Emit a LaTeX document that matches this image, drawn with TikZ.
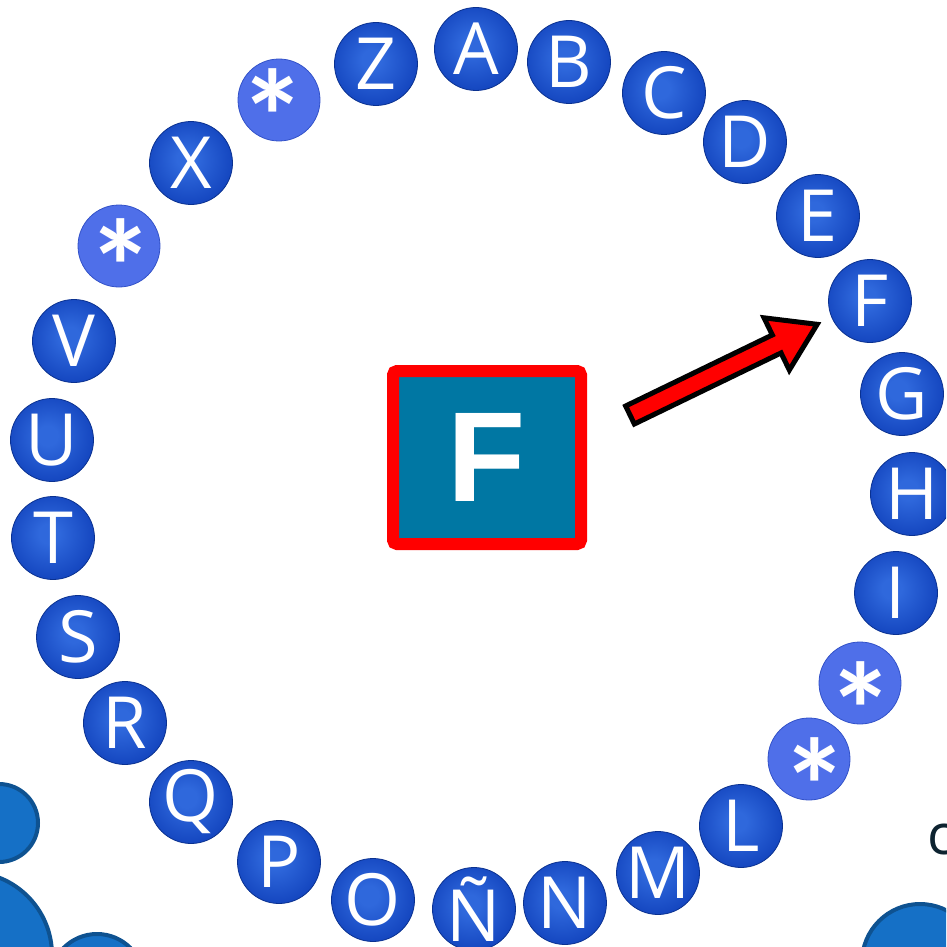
\documentclass[tikz,border=0pt]{standalone}
\usepackage{fontspec}
\setmainfont{Open Sans}
\newfontfamily\arialf{Liberation Sans}
\newfontfamily\calib{Carlito}
\definecolor{ballhi}{HTML}{2F68DC}
\definecolor{ballmid}{HTML}{1547C0}
\definecolor{balldark}{HTML}{0B3AA8}
\definecolor{balledge}{HTML}{0A3190}
\definecolor{starblue}{HTML}{4F6FE9}
\definecolor{starrim}{HTML}{3352C8}
\definecolor{dotfill}{HTML}{1570C6}
\definecolor{dotrim}{HTML}{0E5291}
\definecolor{boxteal}{HTML}{0077A3}
\definecolor{inkdark}{HTML}{0D2330}
\pgfdeclareradialshading{ballshade}{\pgfpoint{-3bp}{3bp}}{color(0bp)=(ballhi); color(6bp)=(ballhi); color(26bp)=(ballmid); color(44bp)=(balldark); color(50bp)=(balledge)}
\newcommand{\starglyph}{\raisebox{-71pt}[0pt][0pt]{\makebox[0pt]{*}}}
\tikzset{
  ball/.style={circle, minimum size=83pt, inner sep=0pt, shading=ballshade, draw=balledge, line width=0.8pt},
  balltxt/.style={inner sep=0pt, text=white, font=\fontsize{72}{72}\selectfont},
  starball/.style={circle, minimum size=82pt, inner sep=0pt, fill=starblue, draw=starrim, line width=0.8pt},
  startxt/.style={inner sep=0pt, text=white, font=\calib\bfseries\fontsize{134}{134}\selectfont},
  bigdot/.style={circle, inner sep=0pt, fill=dotfill, draw=dotrim, line width=4pt},
  centerbox/.style={rectangle, minimum width=188pt, minimum height=173pt, inner sep=0pt, fill=boxteal, draw=red, line width=12pt, rounded corners=4pt, text=white, font=\arialf\bfseries\fontsize{128}{128}\selectfont},
  bigarrow/.style={fill=red, draw=black, line width=5pt, line join=miter}
}
\begin{document}
\begin{tikzpicture}[x=1pt, y=-1pt]
\useasboundingbox (0,0) rectangle (946,947);
\clip (0,0) rectangle (946,947);
% decorative dots
\node[bigdot, minimum size=78pt] (d1) at (-1,823) {};
\node[bigdot, minimum size=166pt] (d2) at (-31,955) {};
\node[bigdot, minimum size=94pt] (d3) at (97,981) {};
\node[bigdot, minimum size=116pt] (d4) at (920,962) {};
\node[anchor=west, inner sep=0pt, text=inkdark, font=\fontsize{56}{56}\selectfont] (ctext) at (927,840) {c};
% letter ring
\foreach \nm/\x/\y/\t in {A/476/49/A, B/569/62/B, C/664/93/C, D/745/142/D, E/818/216/E, F/870/301/F, G/902/394/G, H/912/494/H, I/896/593/I, L/741/826/L, M/658/873/M, N/565/903/N, Nt/474/909/Ñ, O/373/900/O, P/279/862/P, Q/191/802/Q, R/125/723/R, S/78/637/S, T/53/538/T, U/52/440/U, V/74/341/V, X/191/163/X, Z/376/64/Z}{
  \node[ball] (c\nm) at (\x,\y) {};
  \node[balltxt] (t\nm) at (c\nm) {\t};
}
\foreach \nm/\x/\y/\ax/\ay in {s1/279/100/273/93, s2/119/246/121/243, s3/860/683/861/686, s4/809/759/815/762}{
  \node[starball] (\nm) at (\x,\y) {};
  \node[startxt] (t\nm) at (\ax,\ay) {\starglyph};
}
% centre box
\node[centerbox] (box) at (487,457.5) {F};
% arrow
\coordinate (arrTail) at (630,415);
\begin{scope}[shift={(arrTail)}, rotate=25.85]
\draw[bigarrow] (0,-10) -- (163,-10) -- (163,-29) -- (208,0) -- (163,29) -- (163,10) -- (0,10) -- cycle;
\end{scope}
\end{tikzpicture}
\end{document}
